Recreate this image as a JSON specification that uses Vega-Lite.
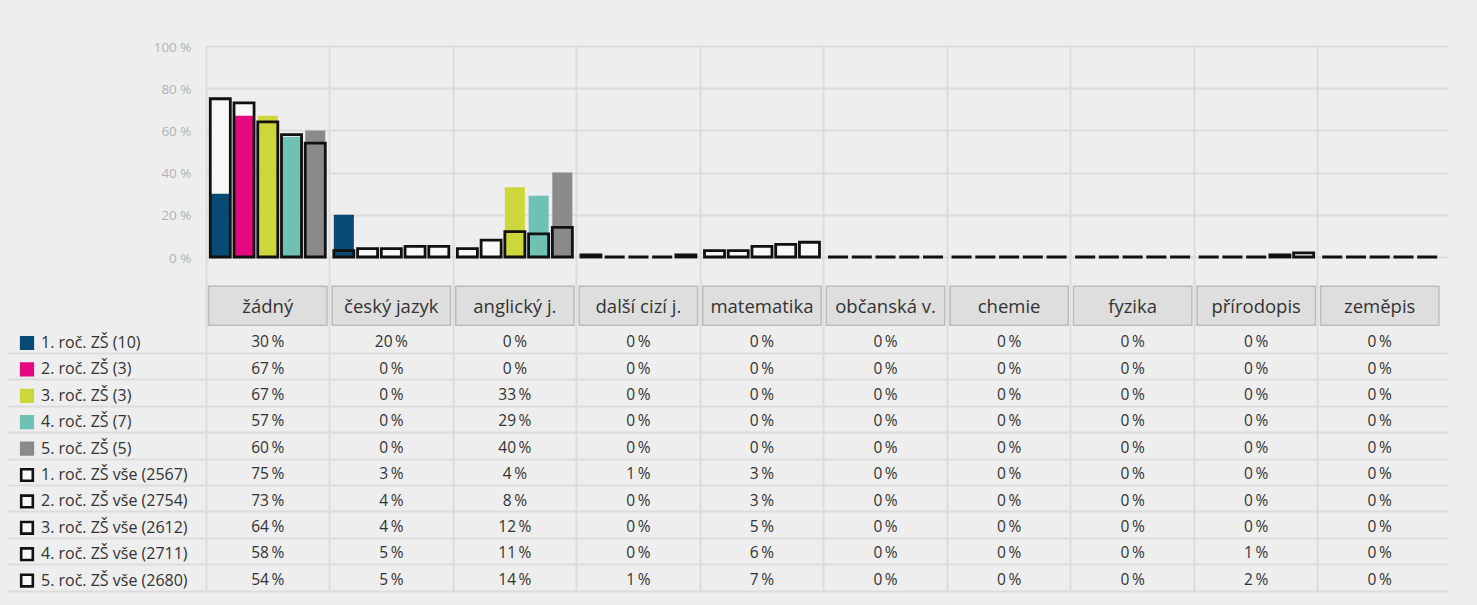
{
  "$schema": "https://vega.github.io/schema/vega-lite/v6.json",
  "background": "#eeeeee",
  "padding": {"left": 7, "top": 40, "right": 30, "bottom": 14},
  "bounds": "flush",
  "spacing": 0,
  "config": {
    "view": {"stroke": null},
    "font": "Open Sans",
    "axis": {"gridColor": "#dcdcdc", "gridWidth": 2, "domain": false, "title": null}
  },
  "datasets": {
    "d": [
      {"c": "žádný", "g": 1, "k": "s", "s": "1. roč. ZŠ (10)", "v": 30},
      {"c": "žádný", "g": 2, "k": "s", "s": "2. roč. ZŠ (3)", "v": 67},
      {"c": "žádný", "g": 3, "k": "s", "s": "3. roč. ZŠ (3)", "v": 67},
      {"c": "žádný", "g": 4, "k": "s", "s": "4. roč. ZŠ (7)", "v": 57},
      {"c": "žádný", "g": 5, "k": "s", "s": "5. roč. ZŠ (5)", "v": 60},
      {"c": "žádný", "g": 1, "k": "a", "s": "1. roč. ZŠ vše (2567)", "v": 75},
      {"c": "žádný", "g": 2, "k": "a", "s": "2. roč. ZŠ vše (2754)", "v": 73},
      {"c": "žádný", "g": 3, "k": "a", "s": "3. roč. ZŠ vše (2612)", "v": 64},
      {"c": "žádný", "g": 4, "k": "a", "s": "4. roč. ZŠ vše (2711)", "v": 58},
      {"c": "žádný", "g": 5, "k": "a", "s": "5. roč. ZŠ vše (2680)", "v": 54},
      {"c": "český jazyk", "g": 1, "k": "s", "s": "1. roč. ZŠ (10)", "v": 20},
      {"c": "český jazyk", "g": 2, "k": "s", "s": "2. roč. ZŠ (3)", "v": 0},
      {"c": "český jazyk", "g": 3, "k": "s", "s": "3. roč. ZŠ (3)", "v": 0},
      {"c": "český jazyk", "g": 4, "k": "s", "s": "4. roč. ZŠ (7)", "v": 0},
      {"c": "český jazyk", "g": 5, "k": "s", "s": "5. roč. ZŠ (5)", "v": 0},
      {"c": "český jazyk", "g": 1, "k": "a", "s": "1. roč. ZŠ vše (2567)", "v": 3},
      {"c": "český jazyk", "g": 2, "k": "a", "s": "2. roč. ZŠ vše (2754)", "v": 4},
      {"c": "český jazyk", "g": 3, "k": "a", "s": "3. roč. ZŠ vše (2612)", "v": 4},
      {"c": "český jazyk", "g": 4, "k": "a", "s": "4. roč. ZŠ vše (2711)", "v": 5},
      {"c": "český jazyk", "g": 5, "k": "a", "s": "5. roč. ZŠ vše (2680)", "v": 5},
      {"c": "anglický j.", "g": 1, "k": "s", "s": "1. roč. ZŠ (10)", "v": 0},
      {"c": "anglický j.", "g": 2, "k": "s", "s": "2. roč. ZŠ (3)", "v": 0},
      {"c": "anglický j.", "g": 3, "k": "s", "s": "3. roč. ZŠ (3)", "v": 33},
      {"c": "anglický j.", "g": 4, "k": "s", "s": "4. roč. ZŠ (7)", "v": 29},
      {"c": "anglický j.", "g": 5, "k": "s", "s": "5. roč. ZŠ (5)", "v": 40},
      {"c": "anglický j.", "g": 1, "k": "a", "s": "1. roč. ZŠ vše (2567)", "v": 4},
      {"c": "anglický j.", "g": 2, "k": "a", "s": "2. roč. ZŠ vše (2754)", "v": 8},
      {"c": "anglický j.", "g": 3, "k": "a", "s": "3. roč. ZŠ vše (2612)", "v": 12},
      {"c": "anglický j.", "g": 4, "k": "a", "s": "4. roč. ZŠ vše (2711)", "v": 11},
      {"c": "anglický j.", "g": 5, "k": "a", "s": "5. roč. ZŠ vše (2680)", "v": 14},
      {"c": "další cizí j.", "g": 1, "k": "s", "s": "1. roč. ZŠ (10)", "v": 0},
      {"c": "další cizí j.", "g": 2, "k": "s", "s": "2. roč. ZŠ (3)", "v": 0},
      {"c": "další cizí j.", "g": 3, "k": "s", "s": "3. roč. ZŠ (3)", "v": 0},
      {"c": "další cizí j.", "g": 4, "k": "s", "s": "4. roč. ZŠ (7)", "v": 0},
      {"c": "další cizí j.", "g": 5, "k": "s", "s": "5. roč. ZŠ (5)", "v": 0},
      {"c": "další cizí j.", "g": 1, "k": "a", "s": "1. roč. ZŠ vše (2567)", "v": 1},
      {"c": "další cizí j.", "g": 2, "k": "a", "s": "2. roč. ZŠ vše (2754)", "v": 0},
      {"c": "další cizí j.", "g": 3, "k": "a", "s": "3. roč. ZŠ vše (2612)", "v": 0},
      {"c": "další cizí j.", "g": 4, "k": "a", "s": "4. roč. ZŠ vše (2711)", "v": 0},
      {"c": "další cizí j.", "g": 5, "k": "a", "s": "5. roč. ZŠ vše (2680)", "v": 1},
      {"c": "matematika", "g": 1, "k": "s", "s": "1. roč. ZŠ (10)", "v": 0},
      {"c": "matematika", "g": 2, "k": "s", "s": "2. roč. ZŠ (3)", "v": 0},
      {"c": "matematika", "g": 3, "k": "s", "s": "3. roč. ZŠ (3)", "v": 0},
      {"c": "matematika", "g": 4, "k": "s", "s": "4. roč. ZŠ (7)", "v": 0},
      {"c": "matematika", "g": 5, "k": "s", "s": "5. roč. ZŠ (5)", "v": 0},
      {"c": "matematika", "g": 1, "k": "a", "s": "1. roč. ZŠ vše (2567)", "v": 3},
      {"c": "matematika", "g": 2, "k": "a", "s": "2. roč. ZŠ vše (2754)", "v": 3},
      {"c": "matematika", "g": 3, "k": "a", "s": "3. roč. ZŠ vše (2612)", "v": 5},
      {"c": "matematika", "g": 4, "k": "a", "s": "4. roč. ZŠ vše (2711)", "v": 6},
      {"c": "matematika", "g": 5, "k": "a", "s": "5. roč. ZŠ vše (2680)", "v": 7},
      {"c": "občanská v.", "g": 1, "k": "s", "s": "1. roč. ZŠ (10)", "v": 0},
      {"c": "občanská v.", "g": 2, "k": "s", "s": "2. roč. ZŠ (3)", "v": 0},
      {"c": "občanská v.", "g": 3, "k": "s", "s": "3. roč. ZŠ (3)", "v": 0},
      {"c": "občanská v.", "g": 4, "k": "s", "s": "4. roč. ZŠ (7)", "v": 0},
      {"c": "občanská v.", "g": 5, "k": "s", "s": "5. roč. ZŠ (5)", "v": 0},
      {"c": "občanská v.", "g": 1, "k": "a", "s": "1. roč. ZŠ vše (2567)", "v": 0},
      {"c": "občanská v.", "g": 2, "k": "a", "s": "2. roč. ZŠ vše (2754)", "v": 0},
      {"c": "občanská v.", "g": 3, "k": "a", "s": "3. roč. ZŠ vše (2612)", "v": 0},
      {"c": "občanská v.", "g": 4, "k": "a", "s": "4. roč. ZŠ vše (2711)", "v": 0},
      {"c": "občanská v.", "g": 5, "k": "a", "s": "5. roč. ZŠ vše (2680)", "v": 0},
      {"c": "chemie", "g": 1, "k": "s", "s": "1. roč. ZŠ (10)", "v": 0},
      {"c": "chemie", "g": 2, "k": "s", "s": "2. roč. ZŠ (3)", "v": 0},
      {"c": "chemie", "g": 3, "k": "s", "s": "3. roč. ZŠ (3)", "v": 0},
      {"c": "chemie", "g": 4, "k": "s", "s": "4. roč. ZŠ (7)", "v": 0},
      {"c": "chemie", "g": 5, "k": "s", "s": "5. roč. ZŠ (5)", "v": 0},
      {"c": "chemie", "g": 1, "k": "a", "s": "1. roč. ZŠ vše (2567)", "v": 0},
      {"c": "chemie", "g": 2, "k": "a", "s": "2. roč. ZŠ vše (2754)", "v": 0},
      {"c": "chemie", "g": 3, "k": "a", "s": "3. roč. ZŠ vše (2612)", "v": 0},
      {"c": "chemie", "g": 4, "k": "a", "s": "4. roč. ZŠ vše (2711)", "v": 0},
      {"c": "chemie", "g": 5, "k": "a", "s": "5. roč. ZŠ vše (2680)", "v": 0},
      {"c": "fyzika", "g": 1, "k": "s", "s": "1. roč. ZŠ (10)", "v": 0},
      {"c": "fyzika", "g": 2, "k": "s", "s": "2. roč. ZŠ (3)", "v": 0},
      {"c": "fyzika", "g": 3, "k": "s", "s": "3. roč. ZŠ (3)", "v": 0},
      {"c": "fyzika", "g": 4, "k": "s", "s": "4. roč. ZŠ (7)", "v": 0},
      {"c": "fyzika", "g": 5, "k": "s", "s": "5. roč. ZŠ (5)", "v": 0},
      {"c": "fyzika", "g": 1, "k": "a", "s": "1. roč. ZŠ vše (2567)", "v": 0},
      {"c": "fyzika", "g": 2, "k": "a", "s": "2. roč. ZŠ vše (2754)", "v": 0},
      {"c": "fyzika", "g": 3, "k": "a", "s": "3. roč. ZŠ vše (2612)", "v": 0},
      {"c": "fyzika", "g": 4, "k": "a", "s": "4. roč. ZŠ vše (2711)", "v": 0},
      {"c": "fyzika", "g": 5, "k": "a", "s": "5. roč. ZŠ vše (2680)", "v": 0},
      {"c": "přírodopis", "g": 1, "k": "s", "s": "1. roč. ZŠ (10)", "v": 0},
      {"c": "přírodopis", "g": 2, "k": "s", "s": "2. roč. ZŠ (3)", "v": 0},
      {"c": "přírodopis", "g": 3, "k": "s", "s": "3. roč. ZŠ (3)", "v": 0},
      {"c": "přírodopis", "g": 4, "k": "s", "s": "4. roč. ZŠ (7)", "v": 0},
      {"c": "přírodopis", "g": 5, "k": "s", "s": "5. roč. ZŠ (5)", "v": 0},
      {"c": "přírodopis", "g": 1, "k": "a", "s": "1. roč. ZŠ vše (2567)", "v": 0},
      {"c": "přírodopis", "g": 2, "k": "a", "s": "2. roč. ZŠ vše (2754)", "v": 0},
      {"c": "přírodopis", "g": 3, "k": "a", "s": "3. roč. ZŠ vše (2612)", "v": 0},
      {"c": "přírodopis", "g": 4, "k": "a", "s": "4. roč. ZŠ vše (2711)", "v": 1},
      {"c": "přírodopis", "g": 5, "k": "a", "s": "5. roč. ZŠ vše (2680)", "v": 2},
      {"c": "zeměpis", "g": 1, "k": "s", "s": "1. roč. ZŠ (10)", "v": 0},
      {"c": "zeměpis", "g": 2, "k": "s", "s": "2. roč. ZŠ (3)", "v": 0},
      {"c": "zeměpis", "g": 3, "k": "s", "s": "3. roč. ZŠ (3)", "v": 0},
      {"c": "zeměpis", "g": 4, "k": "s", "s": "4. roč. ZŠ (7)", "v": 0},
      {"c": "zeměpis", "g": 5, "k": "s", "s": "5. roč. ZŠ (5)", "v": 0},
      {"c": "zeměpis", "g": 1, "k": "a", "s": "1. roč. ZŠ vše (2567)", "v": 0},
      {"c": "zeměpis", "g": 2, "k": "a", "s": "2. roč. ZŠ vše (2754)", "v": 0},
      {"c": "zeměpis", "g": 3, "k": "a", "s": "3. roč. ZŠ vše (2612)", "v": 0},
      {"c": "zeměpis", "g": 4, "k": "a", "s": "4. roč. ZŠ vše (2711)", "v": 0},
      {"c": "zeměpis", "g": 5, "k": "a", "s": "5. roč. ZŠ vše (2680)", "v": 0}
    ]
  },
  "vconcat": [
    {
      "width": 1242,
      "height": 211,
      "data": {"name": "d"},
      "encoding": {
        "x": {"field": "c", "type": "nominal",
          "scale": {"type": "band", "domain": ["žádný", "český jazyk", "anglický j.", "další cizí j.", "matematika", "občanská v.", "chemie", "fyzika", "přírodopis", "zeměpis"], "paddingInner": 0, "paddingOuter": 0.0263, "align": 0},
          "axis": {"labels": false, "ticks": false, "grid": true, "bandPosition": 0}},
        "xOffset": {"field": "g", "type": "nominal", "scale": {"paddingInner": 0.156, "paddingOuter": 0.18}},
        "y": {"field": "v", "type": "quantitative", "scale": {"domain": [0, 100]},
          "axis": {"values": [0, 20, 40, 60, 80, 100], "labelExpr": "datum.value + ' %'", "ticks": false, "labelPadding": 15, "labelColor": "#b3b3b3", "labelFontSize": 13.5, "labelFont": "Open Sans", "labelOffset": 1}}
      },
      "layer": [
        {
          "transform": [{"filter": "datum.k == 'a'"}],
          "mark": {"type": "bar"},
          "encoding": {
            "fill": {"field": "s", "type": "nominal",
              "scale": {"domain": ["1. roč. ZŠ (10)", "2. roč. ZŠ (3)", "3. roč. ZŠ (3)", "4. roč. ZŠ (7)", "5. roč. ZŠ (5)", "1. roč. ZŠ vše (2567)", "2. roč. ZŠ vše (2754)", "3. roč. ZŠ vše (2612)", "4. roč. ZŠ vše (2711)", "5. roč. ZŠ vše (2680)"],
                "range": ["#074a74", "#e4097f", "#cdd73b", "#6fc1b3", "#8a8a8a", "#f8f8f8", "#f8f8f8", "#f8f8f8", "#f8f8f8", "#f8f8f8"]},
              "legend": {"orient": "none", "legendX": -187, "legendY": 289, "title": null, "direction": "vertical", "padding": 0, "symbolType": "square", "symbolSize": 135, "symbolStrokeWidth": 2.6, "labelFont": "Open Sans", "labelFontSize": 16, "labelColor": "#333333", "labelOffset": 6, "labelLimit": 300, "rowPadding": 2.4}}
          }
        },
        {
          "transform": [{"filter": "datum.k == 's'"}],
          "mark": {"type": "bar"},
          "encoding": {
            "fill": {"field": "s", "type": "nominal"}
          }
        },
        {
          "transform": [{"filter": "datum.k == 'a'"}],
          "mark": {"type": "bar", "fill": "transparent", "strokeWidth": 2.8},
          "encoding": {
            "stroke": {"field": "s", "type": "nominal",
              "scale": {"domain": ["1. roč. ZŠ (10)", "2. roč. ZŠ (3)", "3. roč. ZŠ (3)", "4. roč. ZŠ (7)", "5. roč. ZŠ (5)", "1. roč. ZŠ vše (2567)", "2. roč. ZŠ vše (2754)", "3. roč. ZŠ vše (2612)", "4. roč. ZŠ vše (2711)", "5. roč. ZŠ vše (2680)"],
                "range": ["#074a74", "#e4097f", "#cdd73b", "#6fc1b3", "#8a8a8a", "#111111", "#111111", "#111111", "#111111", "#111111"]},
              "legend": {"orient": "none", "legendX": -187, "legendY": 289, "title": null, "direction": "vertical", "padding": 0, "symbolType": "square", "symbolSize": 135, "symbolStrokeWidth": 2.6, "labelFont": "Open Sans", "labelFontSize": 16, "labelColor": "#333333", "labelOffset": 6, "labelLimit": 300, "rowPadding": 2.4}}
          }
        }
      ]
    },
    {
      "width": 1242,
      "height": 70,
      "data": {"name": "d"},
      "transform": [{"filter": "datum.g == 1 && datum.k == 's'"}],
      "encoding": {
        "x": {"field": "c", "type": "nominal",
          "scale": {"type": "band", "domain": ["žádný", "český jazyk", "anglický j.", "další cizí j.", "matematika", "občanská v.", "chemie", "fyzika", "přírodopis", "zeměpis"], "paddingInner": 0, "paddingOuter": 0.0263, "align": 0},
          "axis": {"labels": false, "ticks": false, "grid": true, "bandPosition": 0}},
        "y": {"datum": "h", "type": "nominal", "scale": {"type": "band", "paddingInner": 0, "paddingOuter": 0.397, "align": 0.945}, "axis": null}
      },
      "layer": [
        {"mark": {"type": "bar", "fill": "#dedede", "stroke": "#bcbcbc", "strokeWidth": 1.5, "width": {"band": 0.958}}},
        {"mark": {"type": "text", "font": "Open Sans", "fontSize": 18.5, "fill": "#333333", "dy": 1.5}, "encoding": {"text": {"field": "c"}}}
      ]
    },
    {
      "width": 1242,
      "height": 264,
      "data": {"name": "d"},
      "transform": [{"calculate": "datum.v + '\u2009%'", "as": "t"}],
      "mark": {"type": "text", "font": "Open Sans", "fontSize": 15.5, "fill": "#333333", "dy": 2},
      "encoding": {
        "x": {"field": "c", "type": "nominal",
          "scale": {"type": "band", "domain": ["žádný", "český jazyk", "anglický j.", "další cizí j.", "matematika", "občanská v.", "chemie", "fyzika", "přírodopis", "zeměpis"], "paddingInner": 0, "paddingOuter": 0.0263, "align": 0},
          "axis": {"labels": false, "ticks": false, "grid": true, "bandPosition": 0}},
        "y": {"field": "s", "type": "nominal",
          "scale": {"type": "band", "domain": ["1. roč. ZŠ (10)", "2. roč. ZŠ (3)", "3. roč. ZŠ (3)", "4. roč. ZŠ (7)", "5. roč. ZŠ (5)", "1. roč. ZŠ vše (2567)", "2. roč. ZŠ vše (2754)", "3. roč. ZŠ vše (2612)", "4. roč. ZŠ vše (2711)", "5. roč. ZŠ vše (2680)"], "paddingInner": 0, "paddingOuter": 0},
          "axis": {"labels": false, "ticks": true, "tickSize": 198, "tickColor": "#dcdcdc", "tickWidth": 2, "grid": true, "bandPosition": 1}},
        "text": {"field": "t"}
      }
    }
  ]
}
